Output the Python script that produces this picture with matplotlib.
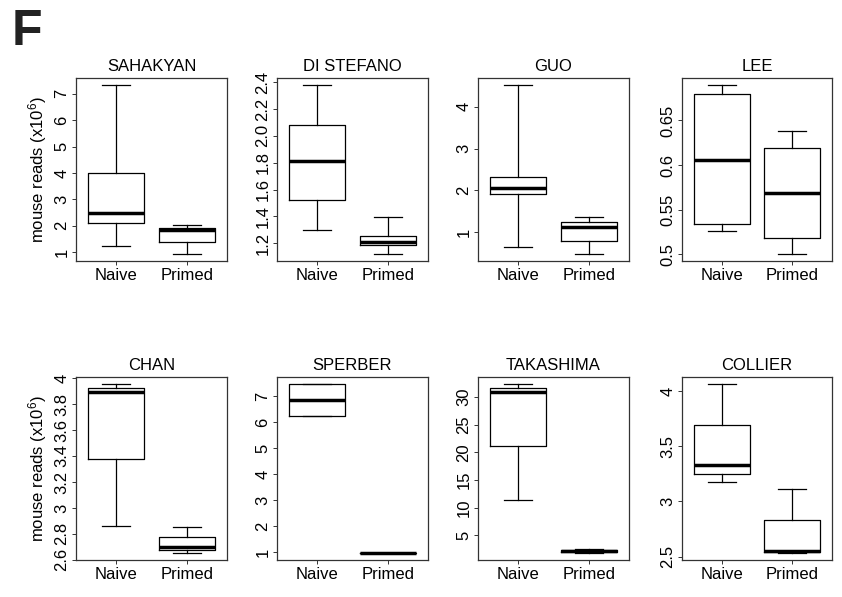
import matplotlib
matplotlib.use("Agg")
import matplotlib.pyplot as plt

plt.rcParams['font.family'] = ['Liberation Sans', 'DejaVu Sans']
plt.rcParams['mathtext.default'] = 'regular'

studies = ["SAHAKYAN", "DI STEFANO", "GUO", "LEE",
           "CHAN", "SPERBER", "TAKASHIMA", "COLLIER"]
groups = ["Naive", "Primed"]

# box summaries: whisker low, Q1, median, Q3, whisker high
naive_low = [1.25, 1.30, 0.65, 0.526, 2.864, 6.24, 11.40, 3.174]
naive_q1 = [2.10, 1.52, 1.915, 0.534, 3.38, 6.24, 21.12, 3.253]
naive_med = [2.50, 1.816, 2.06, 0.6056, 3.891, 6.86, 30.85, 3.329]
naive_q3 = [4.00, 2.082, 2.33, 0.680, 3.922, 7.48, 31.57, 3.699]
naive_high = [7.34, 2.38, 4.52, 0.690, 3.956, 7.48, 32.36, 4.069]

primed_low = [0.92, 1.118, 0.48, 0.500, 2.651, 0.95, 1.75, 2.530]
primed_q1 = [1.38, 1.185, 0.80, 0.5187, 2.674, 0.955, 2.00, 2.542]
primed_med = [1.85, 1.212, 1.12, 0.5685, 2.698, 0.96, 2.20, 2.549]
primed_q3 = [1.91, 1.257, 1.25, 0.619, 2.775, 0.965, 2.40, 2.828]
primed_high = [2.01, 1.396, 1.37, 0.6386, 2.854, 0.97, 2.45, 3.11]

# y tick labels per panel
ytick_labels = [
    ["1", "2", "3", "4", "5", "6", "7"],
    ["1.2", "1.4", "1.6", "1.8", "2.0", "2.2", "2.4"],
    ["1", "2", "3", "4"],
    ["0.5", "0.55", "0.6", "0.65"],
    ["2.6", "2.8", "3", "3.2", "3.4", "3.6", "3.8", "4"],
    ["1", "2", "3", "4", "5", "6", "7"],
    ["5", "10", "15", "20", "25", "30"],
    ["2.5", "3", "3.5", "4"],
]

W, H = 842, 597
fig = plt.figure(figsize=(W / 100, H / 100), dpi=100)

# panel boxes in pixels (left, right), rows (top, bottom)
cols = [(76, 227), (277, 428), (478, 629), (682, 832)]
rows = [(78, 261), (377, 560)]

frame_col = '#333333'
fs = 12

for i, name in enumerate(studies):
    r, c = divmod(i, 4)
    x0, x1 = cols[c]
    t, b = rows[r]
    ax = fig.add_axes([x0 / W, 1 - b / H, (x1 - x0) / W, (b - t) / H])

    stats = [
        dict(whislo=naive_low[i], q1=naive_q1[i], med=naive_med[i],
             q3=naive_q3[i], whishi=naive_high[i], fliers=[], label=groups[0]),
        dict(whislo=primed_low[i], q1=primed_q1[i], med=primed_med[i],
             q3=primed_q3[i], whishi=primed_high[i], fliers=[], label=groups[1]),
    ]
    line = dict(color='black', linewidth=0.9)
    ax.bxp(stats, positions=[1, 2], widths=0.8, capwidths=0.4,
           showfliers=False, boxprops=line, whiskerprops=line, capprops=line,
           medianprops=dict(color='black', linewidth=2.5))

    lo = min(naive_low[i], primed_low[i])
    hi = max(naive_high[i], primed_high[i])
    pad = 0.04 * (hi - lo)
    ax.set_ylim(lo - pad, hi + pad)
    ax.set_xlim(0.43, 2.57)

    ax.set_yticks([float(v) for v in ytick_labels[i]])
    ax.set_yticklabels(ytick_labels[i], rotation=90, va='center')
    ax.set_xticks([1, 2])
    ax.set_xticklabels(groups)

    ax.tick_params(axis='both', direction='out', length=3.2, width=0.7,
                   color=frame_col, labelsize=fs, pad=1.5)
    for s in ax.spines.values():
        s.set_color(frame_col)
        s.set_linewidth(0.9)

    ax.set_title(name, fontsize=fs, pad=5)

    if c == 0:
        fig.text(38 / W, 1 - (t + b) / 2 / H, "mouse reads (x10$^{6}$)",
                 rotation=90, ha='center', va='center', fontsize=fs)

fig.text(12 / W, 1 - 45 / H, "F", fontsize=36, fontweight='bold',
         color='#222222', ha='left', va='baseline')

fig.savefig("out.png", dpi=100)
